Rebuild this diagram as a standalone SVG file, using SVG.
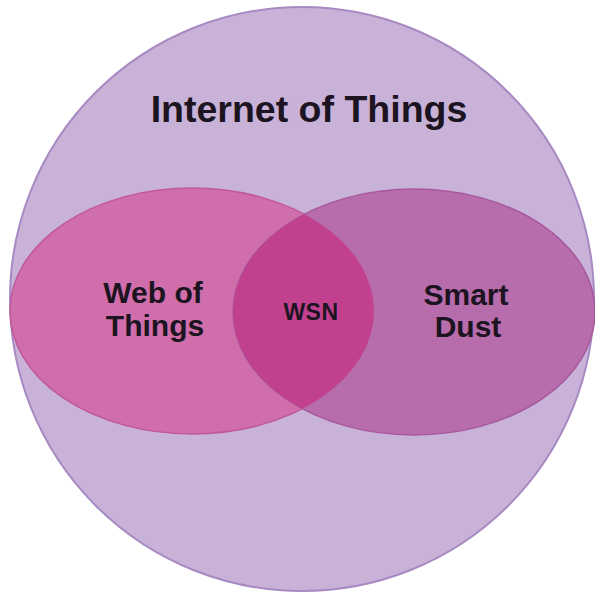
<svg xmlns="http://www.w3.org/2000/svg" width="595" height="593" viewBox="0 0 595 593">
  <style>
    .lbl { font-family: "Liberation Sans", Arial, sans-serif; font-weight: bold; fill: #1c1420; text-anchor: middle; }
  </style>
  <defs>
    <clipPath id="leftClip">
      <ellipse cx="192" cy="311" rx="182" ry="123"/>
    </clipPath>
  </defs>
  <rect width="595" height="593" fill="#ffffff"/>
  <g id="iot">
    <circle cx="302" cy="299" r="292" fill="#C8B2D8" stroke="#A88AC3" stroke-width="2"/>
    <text class="lbl" x="309" y="122" font-size="37.5">Internet of Things</text>
  </g>
  <g id="wot">
    <ellipse cx="192" cy="311" rx="182" ry="123" fill="#CF6EAB" stroke="#C0579B" stroke-width="1.5"/>
  </g>
  <g id="smartdust">
    <ellipse cx="414" cy="312" rx="181" ry="123" fill="#B76DAC" stroke="#A7589D" stroke-width="1.5"/>
  </g>
  <g id="wsn">
    <ellipse cx="414" cy="312" rx="181" ry="123" fill="#C2418F" clip-path="url(#leftClip)"/>
  </g>
  <g id="labels">
    <text class="lbl" x="153" y="303" font-size="30">Web of</text>
    <text class="lbl" x="155" y="336" font-size="30">Things</text>
    <text class="lbl" x="311" y="320" font-size="23" letter-spacing="0.5">WSN</text>
    <text class="lbl" x="466" y="305" font-size="30">Smart</text>
    <text class="lbl" x="468" y="337" font-size="30">Dust</text>
  </g>
</svg>
